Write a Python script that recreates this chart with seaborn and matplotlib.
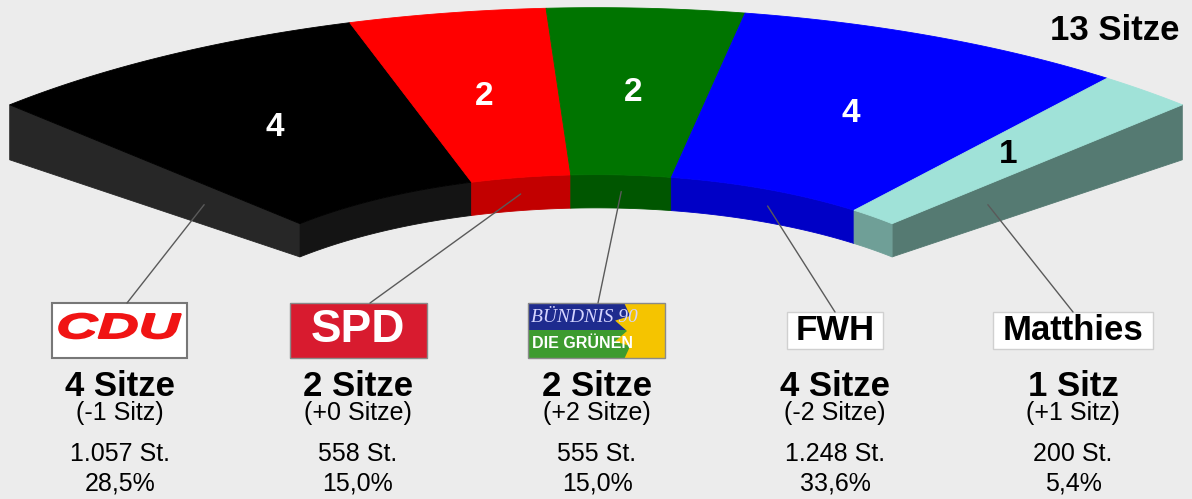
import numpy as np
import matplotlib.pyplot as plt
import seaborn as sns
from matplotlib.patches import Polygon, Rectangle, PathPatch
from matplotlib.textpath import TextPath
from matplotlib.font_manager import FontProperties
from matplotlib.transforms import Affine2D

# Sitzverteilung
parties = ["CDU", "SPD", "GRÜNE", "FWH", "Matthies"]
seats = [4, 2, 2, 4, 1]
seat_change = [-1, 0, 2, -2, 1]
votes = [1057, 558, 555, 1248, 200]
percent = [28.5, 15.0, 15.0, 33.6, 5.4]

top_colors = ["#000000", "#ff0000", "#007400", "#0000ff", "#a0e2d8"]
side_colors = ["#141414", "#c20000", "#005600", "#0000c6", "#6f9f97"]
number_colors = ["white", "white", "white", "white", "black"]
cap_colors = ["#272727", "#557a72"]

sns.set_theme(style="white", rc={"figure.facecolor": "#ececec",
                                 "axes.facecolor": "#ececec"})
plt.rcParams["font.family"] = ["Liberation Sans", "DejaVu Sans"]

W, H = 1192, 499
fig = plt.figure(figsize=(W / 100, H / 100), dpi=100)
ax = fig.add_axes([0, 0, 1, 1])
ax.set_xlim(0, W)
ax.set_ylim(H, 0)
ax.axis("off")

# ring geometry in pixel space (flattened ellipse)
cx, cy = 596, 345
R = 835
k = 0.404
r_in = 0.505
span = 89.2


def pt(a, r):
    t = np.radians(a)
    return cx + R * r * np.sin(t), cy - R * r * k * np.cos(t)


def depth(r):
    return 11 + 44 * r


def arc(a0, a1, r, drop=0.0, n=80):
    a = np.linspace(a0, a1, n)
    x, y = pt(a, r)
    return np.column_stack([x, y + drop])


edges = -span / 2 + span * np.concatenate([[0], np.cumsum(seats)]) / sum(seats)

# end caps
for a, col in zip([edges[0], edges[-1]], cap_colors):
    xo, yo = pt(a, 1)
    xi, yi = pt(a, r_in)
    poly = [(xo, yo), (xi, yi), (xi, yi + depth(r_in)), (xo, yo + depth(1))]
    ax.add_patch(Polygon(poly, closed=True, fc=col, ec=col, lw=0.6))

# inner faces and top surfaces
for i in range(len(seats)):
    a0, a1 = edges[i], edges[i + 1]
    face = np.vstack([arc(a0, a1, r_in), arc(a1, a0, r_in, drop=depth(r_in))])
    ax.add_patch(Polygon(face, closed=True, fc=side_colors[i], ec=side_colors[i], lw=0.6))
    top = np.vstack([arc(a0, a1, 1), arc(a1, a0, r_in)])
    ax.add_patch(Polygon(top, closed=True, fc=top_colors[i], ec=top_colors[i], lw=0.6))
    mx, my = pt((a0 + a1) / 2, 0.75)
    ax.text(mx, my, str(seats[i]), ha="center", va="center", fontsize=24,
            fontweight="bold", color=number_colors[i])

ax.text(1180, 40, f"{sum(seats)} Sitze", ha="right", va="baseline",
        fontsize=25, fontweight="bold", color="black")

# columns below
cols = [120, 358, 597, 835, 1073]
box_tops = [303, 303, 303, 312, 312]

# leader lines
for i in range(len(seats)):
    a0, a1 = edges[i], edges[i + 1]
    if i == 0 or i == len(seats) - 1:
        a = edges[0] if i == 0 else edges[-1]
        r = 1 - (1 - r_in) * 0.67
        sx, sy = pt(a, r)
        sy += depth(r) / 2
    else:
        sx, sy = pt((a0 + a1) / 2, r_in)
        sy += depth(r_in) / 2
    ex = cols[i] + [7, 12, 1, 0, 0][i]
    ax.plot([sx, ex], [sy, box_tops[i]], color="#5a5a5a", lw=1.0, zorder=5)

# CDU logo
ax.add_patch(Rectangle((52, 303), 135, 55, fc="white", ec="#777777", lw=1.5))
fp = FontProperties(family="Liberation Sans", weight="bold", style="italic")
tp = TextPath((0, 0), "CDU", size=40, prop=fp)
bb = tp.get_extents()
tr = (Affine2D().translate(-bb.x0 - bb.width / 2, -bb.y0 - bb.height / 2)
      .scale(122 / bb.width, -25 / bb.height).translate(cols[0], 326))
ax.add_patch(PathPatch(tr.transform_path(tp), fc="#f01414", ec="#f01414", lw=1.2))

# SPD logo
ax.add_patch(Rectangle((290, 303), 137, 55, fc="#d81b2f", ec="#8a8a8a", lw=1.0))
ax.text(cols[1], 330, "SPD", ha="center", va="center", fontsize=33,
        fontweight="bold", color="white")

# Grünen logo
box = Rectangle((528, 303), 137, 55, fc="none", ec="none")
ax.add_patch(box)
ax.add_patch(Rectangle((528, 303), 137, 27, fc="#1e2b8e", ec="none"))
ax.add_patch(Rectangle((528, 330), 137, 28, fc="#3d9b2f", ec="none"))
ang = np.linspace(0, 2 * np.pi, 30, endpoint=False)
rad = np.where(np.arange(30) % 2 == 0, 50, 37)
star = Polygon(np.column_stack([664 + rad * np.cos(ang), 331 + rad * np.sin(ang)]),
               closed=True, fc="#f5c400", ec="none")
ax.add_patch(star)
star.set_clip_path(box)
ax.add_patch(Rectangle((528, 303), 137, 55, fc="none", ec="#8a8a8a", lw=1.0))
ax.text(584, 318, "BÜNDNIS 90", ha="center", va="center", fontsize=14,
        style="italic", family=["Liberation Serif", "DejaVu Serif"], color="#d4d4ff")
ax.text(583, 344, "DIE GRÜNEN", ha="center", va="center", fontsize=11.5,
        fontweight="bold", color="white")

# FWH / Matthies boxes
ax.add_patch(Rectangle((787, 312), 96, 37, fc="white", ec="#d0d0d0", lw=1.0))
ax.add_patch(Rectangle((993, 312), 160, 37, fc="white", ec="#d0d0d0", lw=1.0))
for i in (3, 4):
    ax.text(cols[i], 331, parties[i], ha="center", va="center", fontsize=25,
            fontweight="bold", color="black")

# seat and vote texts
for i in range(len(seats)):
    s, c = seats[i], seat_change[i]
    ax.text(cols[i], 396, f"{s} Sitz{'e' if s != 1 else ''}", ha="center",
            va="baseline", fontsize=25, fontweight="bold", color="black")
    ax.text(cols[i], 420, f"({c:+d} Sitz{'e' if abs(c) != 1 else ''})", ha="center",
            va="baseline", fontsize=18, color="black")
    ax.text(cols[i], 461, f"{votes[i]:,}".replace(",", ".") + " St.", ha="center",
            va="baseline", fontsize=18, color="black")
    ax.text(cols[i], 490, f"{percent[i]:.1f}".replace(".", ",") + "%", ha="center",
            va="baseline", fontsize=18, color="black")

fig.savefig("out.png", dpi=100, facecolor=fig.get_facecolor())
